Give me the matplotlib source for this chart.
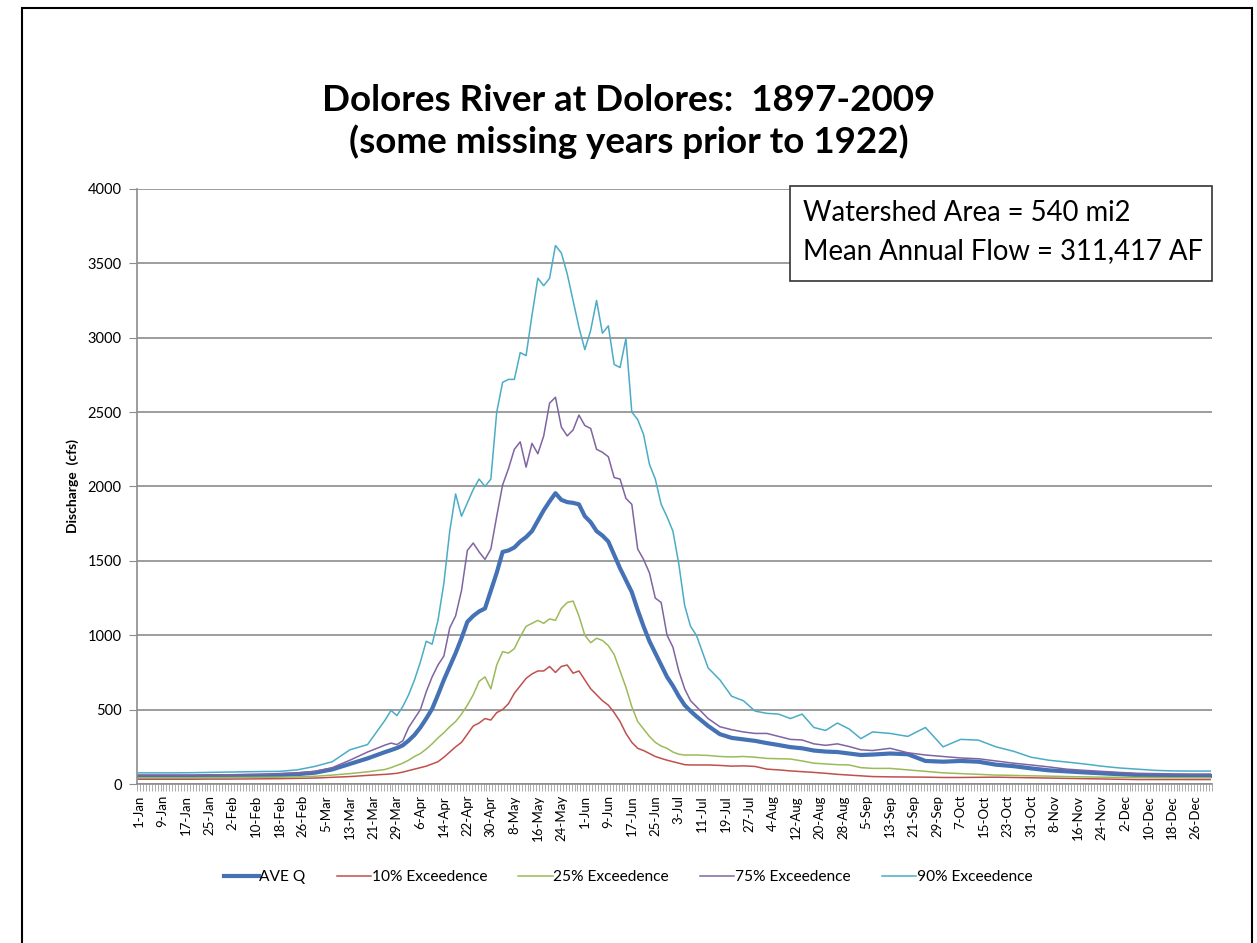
import numpy as np
import matplotlib.pyplot as plt
from matplotlib.patches import Rectangle

# day of year (0 = 1-Jan, leap year, 366 days)
days = [0, 6, 12, 18, 24, 30, 36, 42, 48, 54, 60, 66, 72, 78, 84,
        86, 88, 90, 92, 94, 96, 98, 100, 102, 104, 106, 108, 110, 112, 114, 116, 118, 120,
        122, 124, 126, 128, 130, 132, 134, 136, 138, 140, 142, 144, 146, 148, 150, 152,
        154, 156, 158, 160, 162, 164, 166, 168, 170, 172, 174, 176, 178, 180, 182, 184,
        186, 188, 190,
        194, 198, 202, 206, 210, 214, 218, 222, 226, 230, 234, 238, 242, 246, 250,
        256, 262, 268, 274, 280, 286, 292, 298, 304, 310, 316, 322, 328, 334, 340, 346,
        352, 358, 365]

ave_q = [50, 50, 50, 50, 52, 52, 54, 56, 60, 66, 76, 98, 135, 172, 215,
         228, 242, 260, 292, 330, 380, 440, 505, 600, 700, 790, 880, 980, 1090, 1130, 1160, 1180, 1300,
         1420, 1560, 1570, 1590, 1630, 1660, 1700, 1770, 1840, 1900, 1955, 1910, 1895, 1890, 1880, 1800,
         1760, 1700, 1670, 1630, 1540, 1450, 1370, 1290, 1170, 1060, 960, 880, 800, 720, 660, 590,
         530, 490, 455,
         390, 335, 310, 300, 290, 275, 262, 248, 240, 225, 218, 215, 205, 195, 198,
         205, 200, 155, 150, 155, 150, 130, 120, 105, 92, 85, 78, 72, 66, 60, 57,
         55, 54, 54]

exc10 = [32, 32, 32, 32, 33, 33, 34, 35, 36, 38, 40, 45, 50, 58, 65,
         68, 72, 80, 90, 100, 110, 120, 135, 150, 180, 215, 250, 280, 335, 390, 410, 440, 430,
         480, 500, 540, 610, 660, 710, 740, 760, 760, 790, 750, 790, 800, 745, 760, 700,
         640, 600, 560, 530, 480, 420, 340, 280, 240, 225, 205, 185, 172, 160, 150, 140,
         130, 128, 128,
         128, 125, 120, 122, 118, 100, 95, 88, 83, 78, 72, 65, 60, 55, 50,
         48, 47, 46, 44, 44, 45, 46, 44, 42, 40, 38, 36, 34, 32, 30, 30,
         30, 30, 30]

exc25 = [42, 42, 42, 42, 43, 43, 44, 45, 46, 48, 52, 60, 70, 82, 98,
         110, 125, 140, 160, 185, 205, 235, 270, 310, 345, 385, 420, 470, 530, 600, 690, 720, 640,
         800, 890, 880, 910, 990, 1060, 1080, 1100, 1080, 1110, 1100, 1180, 1220, 1230, 1130, 1000,
         950, 980, 965, 930, 870, 760, 650, 520, 420, 370, 320, 280, 255, 240, 215, 200,
         195, 195, 195,
         192, 185, 182, 185, 180, 172, 170, 168, 155, 140, 135, 130, 128, 110, 105,
         105, 95, 85, 75, 70, 65, 60, 58, 55, 53, 50, 48, 46, 45, 44, 43,
         42, 42, 42]

exc75 = [60, 60, 60, 60, 62, 62, 64, 66, 70, 75, 85, 110, 160, 215, 262,
         275, 265, 290, 380, 440, 500, 620, 720, 800, 860, 1050, 1130, 1300, 1570, 1620, 1560, 1510, 1580,
         1800, 2010, 2120, 2250, 2300, 2130, 2290, 2220, 2340, 2560, 2600, 2400, 2340, 2380, 2480, 2410,
         2390, 2250, 2230, 2200, 2060, 2050, 1920, 1880, 1580, 1510, 1420, 1250, 1220, 1000, 920, 760,
         640, 560, 520,
         440, 385, 365, 350, 340, 340, 320, 300, 296, 270, 260, 270, 252, 230, 225,
         240, 210, 195, 185, 175, 170, 155, 140, 128, 115, 100, 92, 85, 78, 72, 70,
         68, 67, 67]

exc90 = [75, 75, 75, 76, 78, 80, 82, 84, 85, 95, 118, 150, 230, 265, 430,
         495, 460, 520, 600, 700, 820, 960, 940, 1100, 1350, 1700, 1950, 1800, 1890, 1980, 2050, 2000, 2050,
         2500, 2700, 2720, 2720, 2900, 2880, 3150, 3400, 3350, 3400, 3620, 3570, 3430, 3250, 3070, 2920,
         3050, 3250, 3030, 3080, 2820, 2800, 2995, 2500, 2450, 2350, 2150, 2050, 1880, 1796, 1700, 1480,
         1200, 1060, 1000,
         780, 700, 590, 560, 490, 475, 470, 440, 470, 380, 360, 410, 370, 305, 350,
         340, 320, 380, 250, 300, 295, 250, 220, 180, 160, 148, 135, 120, 108, 100, 92,
         88, 87, 87]

tick_days = list(range(0, 366, 8))
tick_labels = ["1-Jan", "9-Jan", "17-Jan", "25-Jan", "2-Feb", "10-Feb", "18-Feb", "26-Feb",
               "5-Mar", "13-Mar", "21-Mar", "29-Mar", "6-Apr", "14-Apr", "22-Apr", "30-Apr",
               "8-May", "16-May", "24-May", "1-Jun", "9-Jun", "17-Jun", "25-Jun", "3-Jul",
               "11-Jul", "19-Jul", "27-Jul", "4-Aug", "12-Aug", "20-Aug", "28-Aug", "5-Sep",
               "13-Sep", "21-Sep", "29-Sep", "7-Oct", "15-Oct", "23-Oct", "31-Oct", "8-Nov",
               "16-Nov", "24-Nov", "2-Dec", "10-Dec", "18-Dec", "26-Dec"]

plt.rcParams['font.family'] = ['Lato', 'DejaVu Sans']

fig = plt.figure(figsize=(12.57, 9.43), dpi=100)
ax = fig.add_axes([0.109, 0.1686, 0.855, 0.631])

ax.plot(days, ave_q, color='#4472B4', lw=3.0, label='AVE Q')
ax.plot(days, exc10, color='#C0504D', lw=1.1, label='10% Exceedence')
ax.plot(days, exc25, color='#9BBB59', lw=1.1, label='25% Exceedence')
ax.plot(days, exc75, color='#8064A2', lw=1.1, label='75% Exceedence')
ax.plot(days, exc90, color='#4BACC6', lw=1.1, label='90% Exceedence')

ax.set_xlim(-0.5, 365.5)
ax.set_ylim(0, 4000)
ax.set_yticks(np.arange(0, 4001, 500))
ax.yaxis.grid(True, color='#8c8c8c', lw=1.2)
ax.set_axisbelow(True)
for s in ['top', 'right']:
    ax.spines[s].set_visible(False)
for s in ['left', 'bottom']:
    ax.spines[s].set_color('#8c8c8c')
    ax.spines[s].set_linewidth(1.2)

ax.set_xticks(tick_days)
ax.set_xticklabels(tick_labels, rotation=90, fontsize=9.5)
ax.set_xticks(np.arange(-0.5, 366, 1), minor=True)
ax.tick_params(axis='x', which='major', length=0, pad=8)
ax.tick_params(axis='x', which='minor', length=5, width=0.5, color='#8c8c8c')
ax.tick_params(axis='y', length=6, color='#8c8c8c', labelsize=10.5, pad=5)

ax.set_ylabel('Discharge  (cfs)', fontsize=10, fontweight='bold', labelpad=6)

fig.text(0.5, 0.893, 'Dolores River at Dolores:  1897-2009', ha='center', va='center',
         fontsize=26.5, fontweight='bold')
fig.text(0.5, 0.850, '(some missing years prior to 1922)', ha='center', va='center',
         fontsize=26.5, fontweight='bold')

fig.patches.append(Rectangle((790 / 1257, 1 - 281 / 943), 422 / 1257, 95 / 943,
                             transform=fig.transFigure, fill=True, facecolor='white',
                             edgecolor='#333333', lw=1.2, zorder=1))
fig.text(803 / 1257, 1 - 213 / 943, 'Watershed Area = 540 mi2',
         fontsize=19.8, ha='left', va='center', zorder=5)
fig.text(803 / 1257, 1 - 251 / 943, 'Mean Annual Flow = 311,417 AF',
         fontsize=19.8, ha='left', va='center', zorder=5)

fig.legend(loc='center', bbox_to_anchor=(0.5, 1 - 877 / 943), ncol=5, frameon=False,
           fontsize=11.2, handlelength=2.2, columnspacing=2.0, handletextpad=0.05)

fig.patches.append(Rectangle((22 / 1257, -0.05), 1230 / 1257, 1.05 - 8 / 943,
                             transform=fig.transFigure, fill=False, edgecolor='black', lw=1.5))

fig.savefig('out.png', dpi=100)
